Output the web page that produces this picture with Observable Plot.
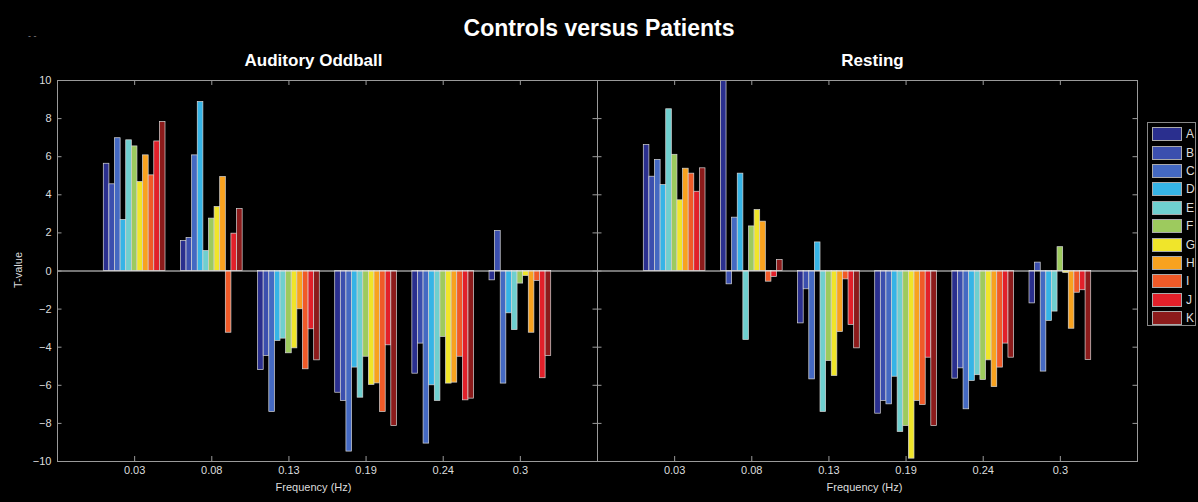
<!DOCTYPE html>
<html><head><meta charset="utf-8">
<script src="https://cdn.jsdelivr.net/npm/d3@7"></script>
<script src="https://cdn.jsdelivr.net/npm/@observablehq/plot@0.6"></script>
<style>
body{margin:0;background:#000;}
#wrap{position:relative;width:1198px;height:502px;background:#000;font-family:"Liberation Sans",Arial,sans-serif;color:#fff;overflow:hidden}
#title{height:46px;box-sizing:border-box;padding-top:10px;line-height:36px;text-align:center;font-weight:bold;font-size:23px;color:#fff}
#dash{position:absolute;left:28px;top:31px;font-size:9px;color:#888}
#ylab{position:absolute;left:18px;top:270px;transform:translate(-50%,-50%) rotate(-90deg);font-size:11px;color:#ddd;white-space:nowrap}
#legend{position:absolute;left:1147px;top:122px;width:49px;height:204px;border:1px solid #888;padding:2px 0 0 4px;box-sizing:border-box;background:#000}
.row{display:flex;align-items:center;height:18.4px}
.sw{width:30px;height:14px;border:1px solid #aaa;box-sizing:border-box}
.lb{margin-left:4px;font-size:12px;color:#ddd}
</style></head><body>
<div id="wrap"><div id="title">Controls versus Patients</div><div id="dash">- -</div><div id="chart"></div><div id="ylab">T-value</div><div id="legend"></div></div>
<script>
const frequencies = ["0.03","0.08","0.13","0.19","0.24","0.3"];
const series = ["A","B","C","D","E","F","G","H","I","J","K"];
const seriesColors = ["#2a2f8e","#3b4fae","#4469c2","#36b4e6","#6fcfcf","#9dca5e","#f0e52a","#f8a21f","#f05a28","#e2202a","#8c1b1b"];
const conditions = ["Auditory Oddball","Resting"];
const yTicks = [-10,-8,-6,-4,-2,0,2,4,6,8,10];

// rows: series A..K, columns: frequencies
const oddballValues = [
  [5.63, 1.57, -5.20, -6.39, -5.39, -0.49],
  [4.55, 1.73, -4.46, -6.82, -3.81, 2.10],
  [6.97, 6.07, -7.40, -9.48, -9.06, -5.91],
  [2.68, 8.87, -3.67, -5.07, -6.00, -2.22],
  [6.86, 1.05, -3.55, -6.65, -6.82, -3.10],
  [6.54, 2.75, -4.32, -4.50, -3.46, -0.66],
  [4.67, 3.36, -4.06, -5.98, -5.91, -0.26],
  [6.07, 4.93, -2.01, -5.90, -5.86, -3.24],
  [5.02, -3.24, -5.16, -7.40, -4.50, -0.52],
  [6.80, 1.96, -3.06, -3.90, -6.79, -5.63],
  [7.82, 3.25, -4.69, -8.14, -6.70, -4.46]
];
const restingValues = [
  [6.61, 10.0, -2.75, -7.49, -5.65, -1.70],
  [4.95, -0.70, -0.96, -6.82, -5.11, 0.44],
  [5.83, 2.80, -5.69, -7.00, -7.26, -5.28],
  [4.51, 5.11, 1.50, -5.55, -5.77, -2.62],
  [8.49, -3.62, -7.40, -8.45, -5.47, -2.13],
  [6.10, 2.34, -4.72, -8.14, -5.72, 1.25],
  [3.71, 3.20, -5.51, -9.85, -4.69, -0.10],
  [5.37, 2.59, -3.20, -6.82, -6.09, -3.03],
  [5.11, -0.56, -0.44, -7.03, -5.07, -1.14],
  [4.16, -0.31, -2.83, -4.55, -3.81, -1.01],
  [5.39, 0.58, -4.06, -8.14, -4.55, -4.67]
];

const data = [];
[oddballValues, restingValues].forEach((vals, c) =>
  vals.forEach((row, s) => row.forEach((v, f) =>
    data.push({condition: conditions[c], series: series[s], si: s, fi: f, value: v}))));

const groupWidth = 0.8, barW = groupWidth / series.length;
const xTickPos = frequencies.map((_, i) => i + 1);
const W = 1198, H = 456, mL = 56, mR = 61, mT = 34, mB = 41;
const facetW = (W - mL - mR) / 2, frameH = H - mT - mB;
const titleShift = [-14, 5], xLabelShift = [-14, -3];

const chart = Plot.plot({
  width: W, height: H, marginLeft: mL, marginRight: mR, marginTop: mT, marginBottom: mB,
  style: {background: "#000", color: "#ddd", fontFamily: "Liberation Sans, Arial, sans-serif", fontSize: "11px"},
  fx: {domain: conditions, padding: 0, label: null, axis: null},
  x: {domain: [0, frequencies.length + 1]},
  y: {domain: [-10, 10]},
  color: {domain: series, range: seriesColors},
  marks: [
    Plot.rectY(data, {
      fx: "condition",
      x1: d => d.fi + 1 - groupWidth / 2 + d.si * barW,
      x2: d => d.fi + 1 - groupWidth / 2 + (d.si + 1) * barW,
      y1: 0, y2: "value",
      fill: "series", stroke: "#d8d8d8", strokeWidth: 0.7, clip: true
    }),
    Plot.ruleY([0], {stroke: "#e6e6e6", strokeWidth: 1}),
    Plot.frame({stroke: "#9a9a9a"}),
    Plot.ruleY(yTicks, {y: d => d, insetRight: facetW - 5, stroke: "#9a9a9a"}),
    Plot.ruleY(yTicks, {y: d => d, insetLeft: facetW - 5, stroke: "#9a9a9a"}),
    Plot.ruleX(xTickPos, {x: d => d, insetBottom: frameH - 5, stroke: "#9a9a9a"}),
    Plot.ruleX(xTickPos, {x: d => d, insetTop: frameH - 5, stroke: "#9a9a9a"}),
    Plot.axisY({ticks: yTicks, tickSize: 0, tickPadding: 6, label: null, fill: "#ddd"}),
    Plot.axisX({ticks: xTickPos, tickFormat: i => frequencies[i - 1], tickSize: 0, tickPadding: 5, label: null, fill: "#ddd"}),
    ...conditions.map((c, i) => Plot.text([c], {fx: d => d, text: d => d, frameAnchor: "top", lineAnchor: "middle", dy: -20, dx: titleShift[i], fontSize: 17, fontWeight: "bold", fill: "#fff"})),
    ...conditions.map((c, i) => Plot.text([c], {fx: d => d, text: () => "Frequency (Hz)", frameAnchor: "bottom", dy: 29, dx: xLabelShift[i], fill: "#ddd", fontSize: 11}))
  ]
});
document.getElementById("chart").appendChild(chart);

const legend = d3.select("#legend");
series.forEach((s, i) => {
  const row = legend.append("div").attr("class", "row");
  row.append("div").attr("class", "sw").style("background", seriesColors[i]);
  row.append("div").attr("class", "lb").text(s);
});
</script>
</body></html>
